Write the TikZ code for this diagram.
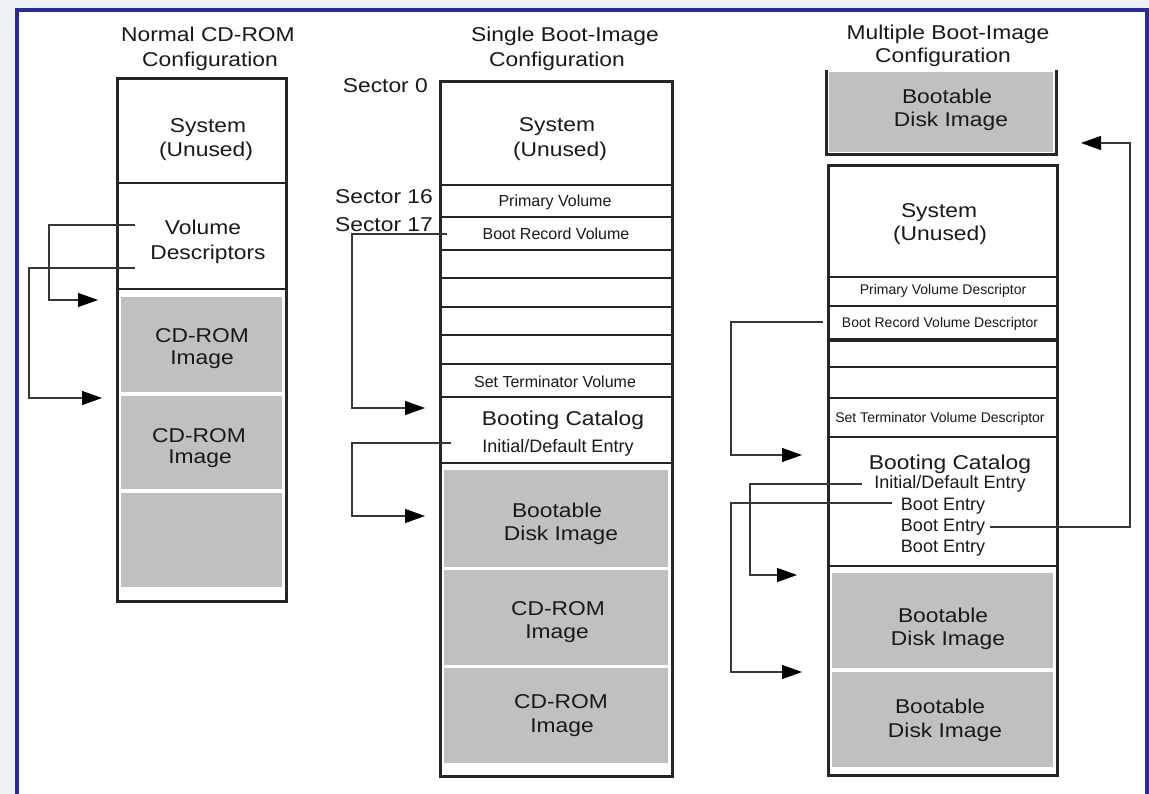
\documentclass[tikz,border=0pt]{standalone}
\usepackage{fontspec}
\setmainfont{Liberation Sans}
\newfontfamily\widefont[FakeStretch=1.14]{Liberation Sans}
\usetikzlibrary{arrows.meta}
\definecolor{framebl}{RGB}{42,42,160}
\definecolor{pagebg}{RGB}{238,242,247}
\definecolor{imggrey}{RGB}{192,192,192}
\definecolor{linkgrey}{RGB}{55,55,55}
\definecolor{ink}{RGB}{25,25,25}

\begin{document}
\begin{tikzpicture}[x=1pt,y=-1pt,
  big/.style={font=\widefont\fontsize{20}{25}\selectfont, anchor=base, inner sep=0pt, text=ink},
  mid/.style={font=\fontsize{16}{19}\selectfont, anchor=base, inner sep=0pt, text=ink},
  small/.style={font=\fontsize{14}{17}\selectfont, anchor=base, inner sep=0pt, text=ink},
  entry/.style={font=\fontsize{18}{21}\selectfont, anchor=base, inner sep=0pt, text=ink},
  sector/.style={big, anchor=base east},
  boxline/.style={line width=3pt, draw=black!85},
  sepline/.style={line width=2.6pt, draw=black!85},
  imgpart/.style={fill=imggrey},
  link/.style={line width=1.4pt, draw=linkgrey,
    -{Triangle[length=20pt,width=14pt,color=black]}},
  ]
\useasboundingbox (0,0) rectangle (1149,794);

% page and frame
\fill[pagebg] (0,0) rectangle (1149,794);
\fill[white] (17,10) rectangle (1146,796);
\draw[framebl, line width=4pt] (17,797) -- (17,10) -- (1146.5,10) -- (1146.5,797);

% ---------- Normal CD-ROM configuration ----------
\node[big] (l-t1) at (208,42) {Normal CD-ROM};
\node[big] (l-t2) at (210,67) {Configuration};
\fill[imgpart] (121,297) rectangle (282,392);
\fill[imgpart] (121,396) rectangle (282,489);
\fill[imgpart] (121,493) rectangle (282,587);
\draw[sepline] (117,183) -- (286,183);
\draw[sepline] (117,289) -- (286,289);
\draw[boxline] (117,79) rectangle (286,601);
\node[big] (l-sys1) at (208,133) {System};
\node[big] (l-sys2) at (206,157) {(Unused)};
\node[big] (l-vd1) at (203,235) {Volume};
\node[big] (l-vd2) at (208,260) {Descriptors};
\node[big] (l-cd1a) at (202,343) {CD-ROM};
\node[big] (l-cd1b) at (202,365) {Image};
\node[big] (l-cd2a) at (199,442) {CD-ROM};
\node[big] (l-cd2b) at (200,463) {Image};

% ---------- Single boot-image configuration ----------
\node[big] (m-t1) at (565,42) {Single Boot-Image};
\node[big] (m-t2) at (557,67) {Configuration};
\node[sector] (m-s0) at (428,93) {Sector 0};
\node[sector] (m-s16) at (433,204) {Sector 16};
\node[sector] (m-s17) at (433,232) {Sector 17};
\fill[imgpart] (444,470) rectangle (668,567);
\fill[imgpart] (444,570) rectangle (668,665);
\fill[imgpart] (444,668) rectangle (668,763);
\foreach \yy in {185,217,250,278,307,335,364,397,463}
  \draw[sepline] (440,\yy) -- (672,\yy);
\draw[boxline] (440,82) rectangle (672,776);
\node[big] (m-sys1) at (557,132) {System};
\node[big] (m-sys2) at (560,157) {(Unused)};
\node[mid] (m-pvd) at (555,207) {Primary Volume};
\node[mid] (m-brv) at (556,240) {Boot Record Volume};
\node[mid] (m-stv) at (555,388) {Set Terminator Volume};
\node[big] (m-cat) at (563,425) {Booting Catalog};
\node[entry] (m-ide) at (558,452) {Initial/Default Entry};
\node[big] (m-bd1) at (557,517) {Bootable};
\node[big] (m-bd2) at (561,540) {Disk Image};
\node[big] (m-cd1a) at (558,615) {CD-ROM};
\node[big] (m-cd1b) at (557,638) {Image};
\node[big] (m-cd2a) at (561,708) {CD-ROM};
\node[big] (m-cd2b) at (562,732) {Image};

% ---------- Multiple boot-image configuration ----------
\node[big] (r-t1) at (948,40) {Multiple Boot-Image};
\node[big] (r-t2) at (943,63) {Configuration};
\fill[imgpart] (829,72) rectangle (1053,152);
\draw[boxline] (826,70) -- (826,155) -- (1056,155) -- (1056,70);
\node[big] (r-xb1) at (947,104) {Bootable};
\node[big] (r-xb2) at (951,127) {Disk Image};
\fill[imgpart] (832,573) rectangle (1053,668);
\fill[imgpart] (832,672) rectangle (1053,767);
\foreach \yy in {277,306,340,367,398,437,566}
  \draw[sepline] (828,\yy) -- (1057,\yy);
\draw[line width=3.6pt, black!85] (828,340) -- (1057,340);
\draw[boxline] (828,166) rectangle (1057,775);
\node[big] (r-sys1) at (939,218) {System};
\node[big] (r-sys2) at (940,241) {(Unused)};
\node[small] (r-pvd) at (943,295) {Primary Volume Descriptor};
\node[small] (r-brv) at (940,328) {Boot Record Volume Descriptor};
\node[small] (r-stv) at (940,422) {Set Terminator Volume Descriptor};
\node[big] (r-cat) at (950,469) {Booting Catalog};
\node[entry] (r-ide) at (950,488) {Initial/Default Entry};
\node[entry] (r-be1) at (943,510) {Boot Entry};
\node[entry] (r-be2) at (943,531) {Boot Entry};
\node[entry] (r-be3) at (943,552) {Boot Entry};
\node[big] (r-bd1a) at (943,622) {Bootable};
\node[big] (r-bd1b) at (948,645) {Disk Image};
\node[big] (r-bd2a) at (940,713) {Bootable};
\node[big] (r-bd2b) at (945,737) {Disk Image};

% ---------- pointer ends ----------
\coordinate (l-p1) at (135,225);
\coordinate (l-k1) at (49,225);
\coordinate (l-a1) at (98,300);
\coordinate (l-p2) at (135,268);
\coordinate (l-k2) at (29,268);
\coordinate (l-a2) at (102,398);

\coordinate (m-p1) at (447,234);
\coordinate (m-k1) at (352,234);
\coordinate (m-a1) at (425,408);
\coordinate (m-p2) at (451,443);
\coordinate (m-k2) at (352,443);
\coordinate (m-a2) at (425,516);

\coordinate (r-p1) at (823,322);
\coordinate (r-k1) at (731,322);
\coordinate (r-a1) at (802,455);
\coordinate (r-p2) at (862,484);
\coordinate (r-k2) at (750,484);
\coordinate (r-a2) at (797,575);
\coordinate (r-p3) at (892,503);
\coordinate (r-k3) at (731,503);
\coordinate (r-a3) at (802,672);
\coordinate (r-p4) at (990,527);
\coordinate (r-k4) at (1130,527);
\coordinate (r-a4) at (1081,143);

% ---------- pointers ----------
\draw[link] (l-p1) -- (l-k1) |- (l-a1);
\draw[link] (l-p2) -- (l-k2) |- (l-a2);
\draw[link] (m-p1) -- (m-k1) |- (m-a1);
\draw[link] (m-p2) -- (m-k2) |- (m-a2);
\draw[link] (r-p1) -- (r-k1) |- (r-a1);
\draw[link] (r-p2) -- (r-k2) |- (r-a2);
\draw[link] (r-p3) -- (r-k3) |- (r-a3);
\draw[link] (r-p4) -- (r-k4) |- (r-a4);
\end{tikzpicture}
\end{document}
